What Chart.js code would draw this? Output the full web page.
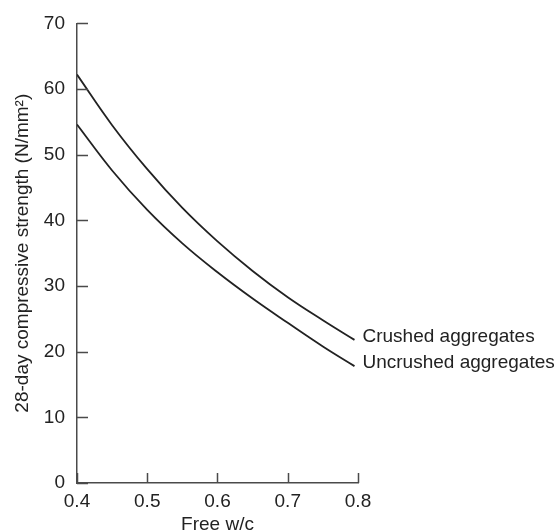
<!DOCTYPE html>
<html lang="en">
<head>
  <meta charset="UTF-8" />
  <title>Free w/c vs 28-day strength</title>
  <script src="https://cdn.jsdelivr.net/npm/chart.js"></script>
  <style>
    html, body { margin: 0; padding: 0; background: #fff; }
    #wrap { width: 555px; height: 531px; }
  </style>
</head>
<body>
  <div id="wrap"><canvas id="grafico" width="555" height="531"></canvas></div>

<script>
// free water/cement ratio where each curve was read
const freeWc = [0.4, 0.45, 0.5, 0.55, 0.6, 0.65, 0.7, 0.75, 0.795];
// 28-day compressive strength, N/mm2
const crushedStrength = [62.2, 54.5, 47.8, 41.9, 36.8, 32.3, 28.3, 24.8, 21.8];
const uncrushedStrength = [54.6, 47.6, 41.6, 36.5, 32.1, 28.1, 24.4, 20.8, 17.8];
const seriesNames = ['Crushed aggregates', 'Uncrushed aggregates'];
const xTicks = [0.4, 0.5, 0.6, 0.7, 0.8];
const yTicks = [0, 10, 20, 30, 40, 50, 60, 70];

const ink = '#222';
const axisInk = '#4a4a4a';
const fontFam = '"Liberation Sans", Arial, Helvetica, sans-serif';
const fontSize = 19;

const toPoints = vals => vals.map((v, i) => ({ x: freeWc[i], y: v }));

// short inward tick marks on both axes
const tickMarks = {
  id: 'tickMarks',
  afterDraw(chart) {
    const { ctx, chartArea, scales } = chart;
    ctx.save();
    ctx.strokeStyle = axisInk;
    ctx.lineWidth = 1.5;
    ctx.beginPath();
    yTicks.forEach(v => {
      const y = Math.round(scales.y.getPixelForValue(v)) + 0.5;
      ctx.moveTo(chartArea.left, y);
      ctx.lineTo(chartArea.left + 11, y);
    });
    xTicks.forEach(v => {
      const x = Math.round(scales.x.getPixelForValue(v)) + 0.5;
      ctx.moveTo(x, chartArea.bottom);
      ctx.lineTo(x, chartArea.bottom - 10);
    });
    ctx.stroke();
    ctx.restore();
  }
};

// series names written at the end of each curve
const endLabels = {
  id: 'endLabels',
  afterDatasetsDraw(chart) {
    const { ctx } = chart;
    ctx.save();
    ctx.font = fontSize + 'px ' + fontFam;
    ctx.fillStyle = ink;
    ctx.textAlign = 'left';
    ctx.textBaseline = 'middle';
    chart.data.datasets.forEach((ds, i) => {
      const pts = chart.getDatasetMeta(i).data;
      const last = pts[pts.length - 1];
      ctx.fillText(ds.label, last.x + 8, last.y - 3);
    });
    ctx.restore();
  }
};

new Chart(document.getElementById('grafico'), {
  type: 'line',
  data: {
    datasets: [
      { label: seriesNames[0], data: toPoints(crushedStrength) },
      { label: seriesNames[1], data: toPoints(uncrushedStrength) }
    ]
  },
  options: {
    responsive: false,
    animation: false,
    layout: { padding: { left: 0, right: 197, top: 15, bottom: -3 } },
    elements: {
      point: { radius: 0 },
      line: { borderColor: ink, borderWidth: 1.8, tension: 0.4, fill: false }
    },
    plugins: {
      legend: { display: false },
      tooltip: { enabled: false }
    },
    scales: {
      x: {
        type: 'linear',
        min: 0.4,
        max: 0.8,
        afterFit(s) { s.height = 51; },
        afterBuildTicks(s) { s.ticks = xTicks.map(v => ({ value: v })); },
        grid: { display: true, drawOnChartArea: false, drawTicks: false },
        border: { display: true, color: axisInk, width: 1.5 },
        ticks: {
          padding: 7,
          color: ink,
          font: { family: fontFam, size: fontSize },
          callback: v => v.toFixed(1)
        },
        title: {
          display: true,
          text: 'Free w/c',
          color: ink,
          font: { family: fontFam, size: fontSize, lineHeight: 1.0 },
          padding: { top: 0, bottom: 0 }
        }
      },
      y: {
        min: 0,
        max: 70,
        afterFit(s) { s.width = 77; },
        afterBuildTicks(s) { s.ticks = yTicks.map(v => ({ value: v })); },
        grid: { display: true, drawOnChartArea: false, drawTicks: false },
        border: { display: true, color: axisInk, width: 1.5 },
        ticks: {
          padding: 12,
          color: ink,
          font: { family: fontFam, size: fontSize }
        },
        title: {
          display: true,
          text: '28-day compressive strength (N/mm²)',
          color: ink,
          font: { family: fontFam, size: fontSize },
          padding: { top: 11, bottom: 0 }
        }
      }
    }
  },
  plugins: [tickMarks, endLabels]
});
</script>
</body>
</html>
